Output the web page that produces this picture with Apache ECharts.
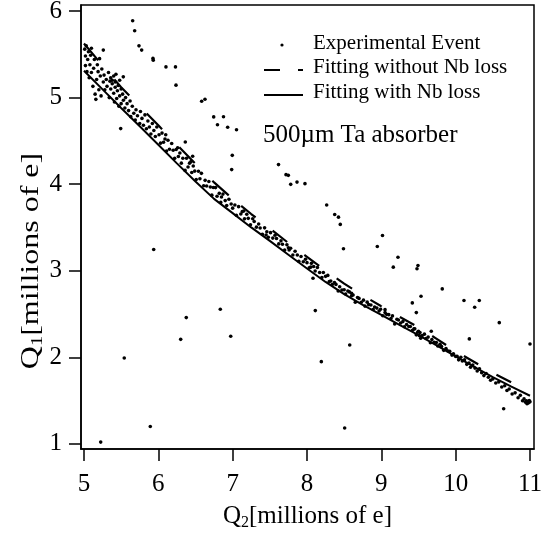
<!DOCTYPE html>
<html><head><meta charset="utf-8">
<script src="https://cdn.jsdelivr.net/npm/echarts@6/dist/echarts.min.js"></script>
<style>html,body{margin:0;padding:0;background:#fff}#c{width:551px;height:533px}</style>
</head><body><div id="c"></div>
<script>
const xTicks = [5, 6, 7, 8, 9, 10, 11];
const yTicks = [1, 2, 3, 4, 5, 6];
const fitX = [5.0,5.25,5.5,5.75,6.0,6.25,6.5,6.75,7.0,7.25,7.5,7.75,8.0,8.25,8.5,8.75,9.0,9.25,9.5,9.75,10.0,10.25,10.5,10.75,11.0];
const fitWithoutNb = [5.625,5.37,5.12,4.90,4.68,4.455,4.235,4.02,3.83,3.655,3.49,3.32,3.16,3.00,2.85,2.715,2.59,2.465,2.345,2.21,2.07,1.945,1.82,1.71,1.605];
const fitWithNb = [5.31,5.095,4.88,4.67,4.455,4.24,4.03,3.83,3.665,3.50,3.345,3.185,3.025,2.87,2.73,2.605,2.49,2.37,2.255,2.135,2.01,1.89,1.77,1.66,1.555];
const eventsBand = [
[5.01,5.56],[5.02,5.37],[5.02,5.48],[5.03,5.60],[5.04,5.30],[5.05,5.44],[5.06,5.53],[5.07,5.23],[5.08,5.38],[5.09,5.49],
[5.10,5.57],[5.10,5.29],[5.12,5.13],[5.13,5.34],[5.14,5.44],[5.15,5.04],[5.16,4.98],[5.17,5.21],[5.18,5.38],[5.19,5.30],
[5.20,5.09],[5.21,5.45],[5.22,5.25],[5.23,5.02],[5.24,5.33],[5.26,5.18],[5.27,5.26],[5.28,5.09],[5.30,5.21],[5.31,5.13],
[5.33,5.29],[5.34,5.00],[5.35,5.19],[5.36,5.10],[5.38,5.16],[5.40,5.05],[5.41,4.95],[5.42,5.12],[5.44,4.99],[5.45,5.08],
[5.47,4.90],[5.48,5.02],[5.50,4.93],
[5.36,5.23],[5.38,5.20],[5.40,5.25],[5.42,5.18],[5.43,5.27],[5.46,5.14],[5.48,5.20],[5.50,5.10],[5.52,5.04],[5.53,4.97],
[5.55,4.88],[5.56,5.00],[5.58,4.93],[5.60,4.85],[5.62,4.96],[5.63,4.78],[5.65,4.90],[5.67,4.82],[5.69,4.74],[5.70,4.86],
[5.72,4.79],[5.75,4.70],[5.76,4.84],[5.78,4.76],[5.80,4.68],[5.82,4.80],[5.84,4.64],[5.86,4.73],[5.88,4.66],[5.90,4.58],
[5.92,4.70],[5.94,4.62],[5.96,4.55],[5.98,4.66],
[6.01,4.570],[6.03,4.474],[6.05,4.590],[6.07,4.484],[6.09,4.522],[6.11,4.382],[6.13,4.508],[6.15,4.403],[6.18,4.470],[6.20,4.392],
[6.22,4.298],[6.24,4.400],[6.27,4.319],[6.29,4.360],[6.31,4.243],[6.33,4.300],[6.36,4.159],[6.38,4.300],[6.40,4.198],[6.42,4.243],
[6.45,4.134],[6.47,4.210],[6.49,4.151],[6.51,4.053],[6.54,4.150],[6.56,4.063],[6.58,4.125],[6.61,3.982],[6.63,4.044],[6.65,3.979],
[6.68,4.030],[6.70,3.967],[6.72,3.873],[6.74,3.962],[6.10,4.57],[6.26,4.42],[6.44,4.26],
[6.77,3.960],[6.79,3.860],[6.82,3.894],[6.84,3.789],[6.87,3.885],[6.90,3.810],[6.92,3.753],[6.95,3.825],[6.98,3.770],[7.00,3.723],
[7.03,3.760],[7.05,3.640],[7.08,3.740],[7.11,3.656],[7.13,3.683],[7.16,3.599],[7.19,3.652],[7.21,3.605],[7.24,3.530],[7.27,3.600],
[7.29,3.568],[7.32,3.503],[7.35,3.540],[7.37,3.493],[7.40,3.422],[7.43,3.495],[7.46,3.450],[7.48,3.386],[7.51,3.440],[7.54,3.377],
[7.57,3.410],[7.59,3.372],[7.62,3.310],[7.65,3.345],[7.67,3.305],[7.70,3.238],[7.73,3.300],[7.76,3.240],[7.78,3.260],[7.81,3.181],
[7.84,3.225],[7.87,3.182],[7.89,3.109],[7.92,3.164],[7.95,3.104],[7.98,3.132],[8.00,3.093],[8.03,3.033],[8.06,3.085],[8.09,3.049],
[8.11,2.997],[8.14,3.037],[8.17,2.979],[8.20,2.921],[8.22,2.980],[8.25,2.935],[8.28,2.946],[8.30,2.876],
[6.85,3.851],[7.15,3.690],[7.45,3.413],[7.75,3.266],[8.05,3.041],
[8.32,2.881],[8.34,2.840],[8.37,2.863],[8.39,2.842],[8.42,2.765],[8.44,2.814],[8.47,2.777],[8.50,2.780],[8.52,2.730],[8.55,2.765],
[8.57,2.755],[8.60,2.710],[8.62,2.720],[8.65,2.635],[8.68,2.690],[8.70,2.680],[8.73,2.635],[8.76,2.660],[8.78,2.591],[8.81,2.637],
[8.83,2.608],[8.86,2.604],[8.89,2.551],[8.91,2.581],[8.94,2.568],[8.97,2.534],[8.99,2.555],[9.02,2.480],[9.05,2.516],[9.07,2.496],
[9.10,2.492],[9.13,2.448],[9.15,2.478],[9.18,2.384],[9.21,2.439],[9.23,2.430],[9.26,2.395],[9.29,2.412],[9.31,2.352],[9.34,2.379],
[9.37,2.355],[9.39,2.356],[9.42,2.312],[9.45,2.328],[9.47,2.259],[9.49,2.290],[9.50,2.300],[9.51,2.250],[9.52,2.285],[9.53,2.221],
[9.55,2.251],[9.58,2.267],[9.60,2.217],[9.63,2.233],[9.66,2.168],[9.68,2.205],[9.71,2.174],[9.74,2.170],[9.76,2.130],[9.79,2.150],
[9.81,2.125],[9.84,2.080],[9.87,2.100],[9.89,2.075],[9.92,2.070],[9.95,2.025],[9.97,2.040],[10.00,2.010],
[9.05,2.55],[9.44,2.33],[8.60,2.74],
[10.02,2.010],[10.04,1.970],[10.07,2.000],[10.09,1.957],[10.12,1.972],[10.15,1.918],[10.18,1.934],[10.20,1.884],[10.23,1.910],[10.26,1.875],
[10.29,1.841],[10.32,1.866],[10.35,1.822],[10.38,1.788],[10.41,1.813],[10.44,1.769],[10.47,1.734],[10.50,1.750],[10.54,1.702],[10.58,1.715],
[10.62,1.657],[10.66,1.670],[10.69,1.616],[10.72,1.633],[10.76,1.576],[10.80,1.589],[10.84,1.532],[10.87,1.560],[10.90,1.497],[10.92,1.519],
[10.94,1.480],[10.95,1.496],[10.96,1.462],[10.97,1.488],[10.98,1.473],[10.99,1.499],[11.00,1.485]
];
const eventsOutliers = [
[5.655,5.888],[5.682,5.772],[5.740,5.598],[5.776,5.549],[5.928,5.453],[5.932,5.433],[6.103,5.355],[6.231,5.355],[6.238,5.144],
[6.583,4.958],[6.628,4.981],[6.745,4.777],[6.877,4.779],[6.796,4.686],[6.933,4.657],[7.052,4.628],[6.995,4.333],[6.987,4.168],
[7.617,4.226],[7.718,4.110],[7.749,4.102],[7.781,3.998],[7.866,4.024],[7.973,4.006],[8.265,3.760],[8.373,3.650],[8.424,3.619],
[8.448,3.535],[9.016,3.407],[8.491,3.253],[8.946,3.280],[9.224,3.156],[9.161,3.041],[9.493,3.060],[9.480,3.022],[9.820,2.790],
[9.417,2.628],[9.534,2.705],[9.471,2.516],[10.112,2.655],[10.318,2.655],[10.256,2.578],[10.587,2.400],[9.672,2.300],[10.184,2.212],
[11.000,2.154],[10.646,1.405],
[5.260,5.549],[5.529,5.240],[5.494,4.642],[6.363,4.487],[6.462,4.322],[8.081,2.913],[8.112,2.539],[8.575,2.142],[8.507,1.182],
[8.193,1.949],[5.938,3.245],[6.834,2.554],[6.376,2.458],[6.301,2.207],[6.974,2.242],[5.542,1.992],[5.892,1.200],[5.225,1.020]
];
const xTitle = ['Q', '2', '[millions of e]'];
const yTitle = ['Q', '1', '[millions of e]'];

const FONT = '"Liberation Serif","Times New Roman",serif';
const chart = echarts.init(document.getElementById('c'), null, {renderer: 'canvas'});
const pair = (xs, ys, a, b) => xs.map((x, i) => [x, ys[i]]).slice(a, b);
const events = eventsBand.concat(eventsOutliers);
const titleRich = {
  a: {fontFamily: FONT, fontSize: 25, fill: '#000', color: '#000', lineHeight: 30},
  s: {fontFamily: FONT, fontSize: 16, fill: '#000', color: '#000', lineHeight: 30, padding: [13, 0, 0, 0]}
};
const richText = t => '{a|' + t[0] + '}{s|' + t[1] + '}{a|' + t[2] + '}';
const dashedPart = (a, b, dash, offset) => ({
  name: 'Fitting without Nb loss', type: 'line', data: pair(fitX, fitWithoutNb, a, b), showSymbol: false, symbol: 'none',
  lineStyle: {color: '#000', width: 2.2, type: dash, dashOffset: offset}, silent: true
});

chart.setOption({
  animation: false,
  backgroundColor: '#fff',
  textStyle: {fontFamily: FONT, color: '#000'},
  grid: {left: 81, top: 5, right: 17, bottom: 84, outerBoundsMode: 'none', containLabel: false,
         show: true, borderColor: '#000', borderWidth: 1.5, backgroundColor: 'transparent'},
  xAxis: {
    type: 'value', min: 4.96, max: 11.054,
    axisLine: {show: true, onZero: false, lineStyle: {color: '#000', width: 1.5}},
    axisTick: {show: true, inside: false, length: 12, customValues: xTicks, lineStyle: {color: '#000', width: 1.5}},
    axisLabel: {customValues: xTicks, color: '#000', fontFamily: FONT, fontSize: 25, margin: 23},
    splitLine: {show: false},
    name: richText(xTitle),
    nameLocation: 'middle', nameGap: 43,
    nameTextStyle: {rich: titleRich}
  },
  yAxis: {
    type: 'value', min: 0.94, max: 6.07,
    axisLine: {show: true, onZero: false, lineStyle: {color: '#000', width: 1.5}},
    axisTick: {show: true, inside: false, length: 12, customValues: yTicks, lineStyle: {color: '#000', width: 1.5}},
    axisLabel: {customValues: yTicks, color: '#000', fontFamily: FONT, fontSize: 25, margin: 19},
    splitLine: {show: false}
  },
  series: [
    {name: 'Experimental Event', type: 'scatter', data: events, symbol: 'circle', symbolSize: 3.6,
     itemStyle: {color: '#000', opacity: 1}, silent: true},
    dashedPart(0, 9, [22, 25], 0),
    dashedPart(8, 17, [18.5, 21.5], 29),
    dashedPart(16, 25, [16.5, 21], 16),
    {name: 'Fitting with Nb loss', type: 'line', data: pair(fitX, fitWithNb, 0, 25), showSymbol: false, symbol: 'none',
     lineStyle: {color: '#000', width: 2}, silent: true}
  ],
  graphic: [
    {type: 'text', x: 31, y: 261, rotation: Math.PI / 2, scaleX: 1.28,
     style: {text: richText(yTitle), rich: titleRich, align: 'center', verticalAlign: 'middle', fill: '#000'}},
    {type: 'circle', shape: {cx: 282, cy: 45, r: 1.6}, style: {fill: '#000'}},
    {type: 'text', left: 313, top: 33, style: {text: 'Experimental Event', font: '21px ' + FONT, fill: '#000'}},
    {type: 'line', shape: {x1: 264, y1: 70, x2: 303, y2: 70}, style: {stroke: '#000', lineWidth: 2.2, lineDash: [16, 18, 5, 100]}},
    {type: 'text', left: 313, top: 57, style: {text: 'Fitting without Nb loss', font: '21px ' + FONT, fill: '#000'}},
    {type: 'line', shape: {x1: 264, y1: 95, x2: 303, y2: 95}, style: {stroke: '#000', lineWidth: 2}},
    {type: 'text', left: 313, top: 82, style: {text: 'Fitting with Nb loss', font: '21px ' + FONT, fill: '#000'}},
    {type: 'text', left: 263, top: 123, style: {text: '500\u00b5m Ta absorber', font: '25px ' + FONT, fill: '#000'}}
  ]
});
</script></body></html>
